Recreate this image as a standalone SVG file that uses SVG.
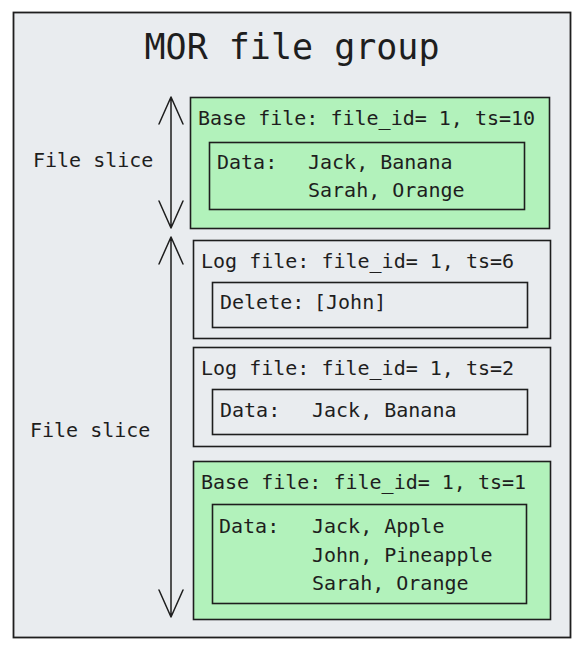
<svg xmlns="http://www.w3.org/2000/svg" width="585" height="653" viewBox="0 0 585 653">
<style>
text{font-family:"DejaVu Sans Mono","Liberation Mono",monospace;font-size:20px;fill:#1e1e1e}
.title{font-size:35px}
.box{stroke:#1e1e1e;stroke-width:1.6}
.green{fill:#b2f2bb}
.clear{fill:none}
.arr{stroke:#1e1e1e;stroke-width:1.5;fill:none;stroke-linecap:round;stroke-linejoin:round}
</style>
<rect x="0" y="0" width="585" height="653" fill="#ffffff"/>
<g id="group">
<rect x="13.5" y="12.5" width="557" height="625" fill="#e9ecef" stroke="#1e1e1e" stroke-width="1.8"/>
<text class="title" x="292" y="59" text-anchor="middle">MOR file group</text>
</g>
<g id="base10">
<rect class="box green" x="190.5" y="97.5" width="359" height="131"/>
<text x="198" y="125">Base file: file_id= 1, ts=10</text>
<rect class="box clear" x="209.5" y="142.5" width="315" height="67"/>
<text x="217" y="169">Data:</text>
<text x="308" y="169">Jack, Banana</text>
<text x="308" y="197">Sarah, Orange</text>
</g>
<g id="log6">
<rect class="box clear" x="193.5" y="240.5" width="357" height="98"/>
<text x="201" y="268">Log file: file_id= 1, ts=6</text>
<rect class="box clear" x="212.5" y="282.5" width="315" height="45"/>
<text x="220" y="309">Delete:</text>
<text x="314" y="309">[John]</text>
</g>
<g id="log2">
<rect class="box clear" x="193.5" y="347.5" width="357" height="99"/>
<text x="201" y="375">Log file: file_id= 1, ts=2</text>
<rect class="box clear" x="212.5" y="389.5" width="315" height="45"/>
<text x="220" y="417">Data:</text>
<text x="312" y="417">Jack, Banana</text>
</g>
<g id="base1">
<rect class="box green" x="193.5" y="461.5" width="357" height="158"/>
<text x="201" y="489">Base file: file_id= 1, ts=1</text>
<rect class="box clear" x="212.5" y="504.5" width="314" height="99"/>
<text x="219" y="533">Data:</text>
<text x="312" y="533">Jack, Apple</text>
<text x="312" y="562">John, Pineapple</text>
<text x="312" y="590">Sarah, Orange</text>
</g>
<g id="labels">
<text x="33" y="167">File slice</text>
<text x="30" y="437">File slice</text>
</g>
<g id="connectors">
<path class="arr" d="M171 97 L171 228 M159 124 L171 97 L183 124 M159 201 L171 228 L183 201"/>
<path class="arr" d="M171 237 L171 617 M159 264 L171 237 L183 264 M159 590 L171 617 L183 590"/>
</g>
</svg>
